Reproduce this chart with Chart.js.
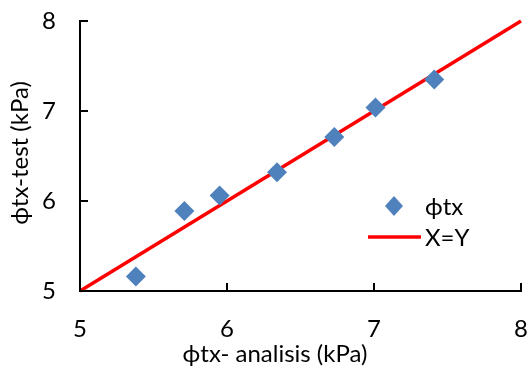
<!DOCTYPE html>
<html>
<head>
<meta charset="utf-8">
<script src="https://cdn.jsdelivr.net/npm/chart.js@4"></script>
<style>
  html, body { margin: 0; padding: 0; background: #fff; }
  #wrap { width: 528px; height: 367px; }
</style>
</head>
<body>
<div id="wrap"><canvas id="chart"></canvas></div>
<script>
const analisis = [5.38, 5.71, 5.95, 6.34, 6.73, 7.01, 7.41];
const test = [5.16, 5.89, 6.06, 6.32, 6.71, 7.04, 7.35];
const lineX = [5, 8];
const lineY = [5, 8];
const ticks = [5, 6, 7, 8];
const seriesNames = ['ϕtx', 'X=Y'];
const axisTitles = { x: 'ϕtx- analisis (kPa)', y: 'ϕtx-test (kPa)' };

const FONT = 'Lato, "Open Sans", sans-serif';
const BLUE = '#4F81BD';
const RED = '#FF0000';

// inside tick marks, axis titles and legend drawn by hand
const decor = {
  id: 'decor',
  afterDraw(chart) {
    const { ctx, chartArea: a, scales: { x, y } } = chart;
    ctx.save();
    ctx.strokeStyle = '#000';
    ctx.lineWidth = 2;
    ticks.forEach(v => {
      const px = x.getPixelForValue(v);
      ctx.beginPath(); ctx.moveTo(px, a.bottom); ctx.lineTo(px, a.bottom - 8); ctx.stroke();
      const py = y.getPixelForValue(v);
      ctx.beginPath(); ctx.moveTo(a.left, py); ctx.lineTo(a.left + 8, py); ctx.stroke();
    });

    ctx.fillStyle = '#000';
    ctx.font = '24px ' + FONT;
    ctx.textAlign = 'center';
    ctx.textBaseline = 'middle';
    ctx.fillText(axisTitles.x, 275, 354);
    ctx.translate(20, 153);
    ctx.rotate(-Math.PI / 2);
    ctx.fillText(axisTitles.y, 0, 0);
    ctx.restore();

    ctx.save();
    ctx.font = '24px ' + FONT;
    ctx.textBaseline = 'middle';
    // diamond
    ctx.fillStyle = BLUE;
    ctx.beginPath();
    ctx.moveTo(394, 196); ctx.lineTo(403, 206); ctx.lineTo(394, 216); ctx.lineTo(385, 206);
    ctx.closePath(); ctx.fill();
    ctx.fillStyle = '#000';
    ctx.fillText(seriesNames[0], 425, 207);
    ctx.strokeStyle = RED;
    ctx.lineWidth = 3.5;
    ctx.beginPath(); ctx.moveTo(368, 237); ctx.lineTo(421, 237); ctx.stroke();
    ctx.fillText(seriesNames[1], 425, 238);
    ctx.restore();
  }
};

new Chart(document.getElementById('chart'), {
  type: 'scatter',
  data: {
    datasets: [
      {
        label: seriesNames[1],
        data: lineX.map((v, i) => ({ x: v, y: lineY[i] })),
        showLine: true,
        borderColor: RED,
        borderWidth: 3.5,
        pointRadius: 0,
        clip: false,
        order: 2
      },
      {
        label: seriesNames[0],
        data: analisis.map((v, i) => ({ x: v, y: test[i] })),
        pointStyle: 'rectRot',
        pointRadius: 10,
        backgroundColor: BLUE,
        borderWidth: 0,
        order: 1
      }
    ]
  },
  options: {
    responsive: true,
    maintainAspectRatio: false,
    animation: false,
    events: [],
    layout: { autoPadding: false, padding: { left: 0, top: 21, right: 7, bottom: 0 } },
    plugins: { legend: { display: false }, tooltip: { enabled: false } },
    scales: {
      x: {
        type: 'linear', min: 5, max: 8,
        afterBuildTicks: s => { s.ticks = ticks.map(v => ({ value: v })); },
        afterFit: s => { s.height = 76; s.paddingLeft = 0; s.paddingRight = 0; },
        grid: { display: false, drawTicks: false },
        border: { display: true, color: '#000', width: 2 },
        ticks: { padding: 24, color: '#000', font: { family: FONT, size: 24 } }
      },
      y: {
        type: 'linear', min: 5, max: 8,
        afterBuildTicks: s => { s.ticks = ticks.map(v => ({ value: v })); },
        afterFit: s => { s.width = 80; s.paddingTop = 0; s.paddingBottom = 0; },
        grid: { display: false, drawTicks: false },
        border: { display: true, color: '#000', width: 2 },
        ticks: { padding: 24, color: '#000', font: { family: FONT, size: 24 } }
      }
    }
  },
  plugins: [decor]
});
</script>
</body>
</html>
